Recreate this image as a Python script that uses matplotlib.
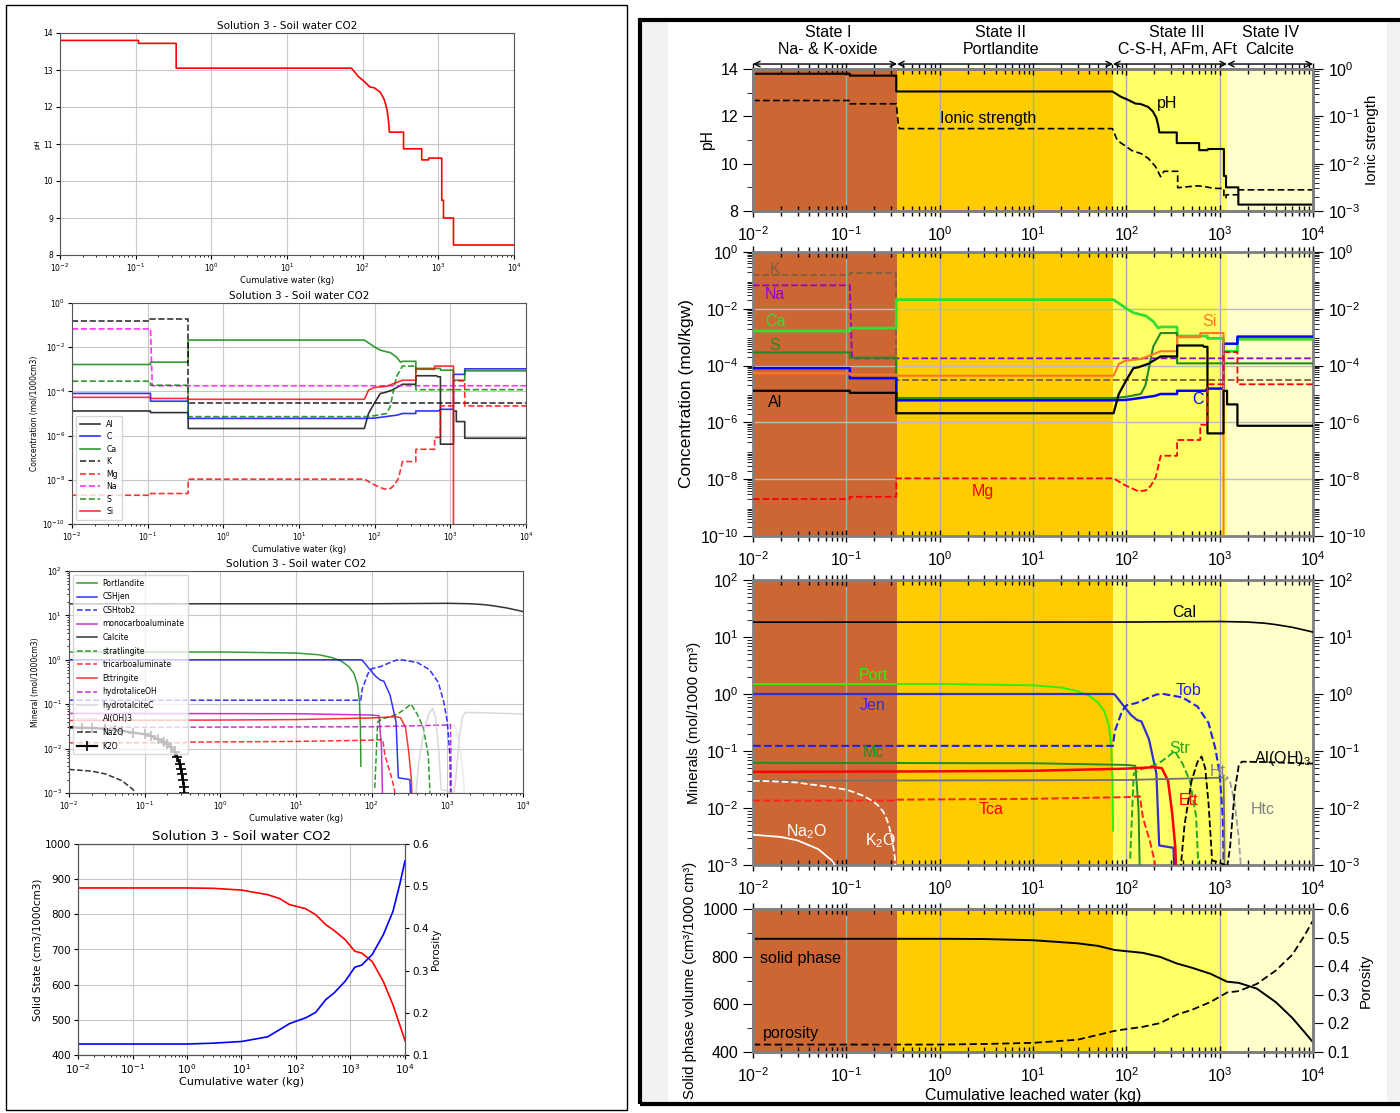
import matplotlib
matplotlib.use("Agg")
import matplotlib.pyplot as plt
from matplotlib.patches import Rectangle
from matplotlib.ticker import FixedLocator, LogLocator, NullFormatter, MultipleLocator

W, H = 1400, 1113

# ---------------- data ----------------
# pH
ph_x = [0.01, 0.109, 0.109, 0.343, 0.343, 71, 78, 87, 105, 125, 142, 171, 193, 210, 220, 226,
        347, 347, 603, 603, 741, 750, 1110, 1110, 1170, 1170, 1585, 1585, 1e4]
ph_y = [13.8, 13.8, 13.72, 13.72, 13.05, 13.05, 12.95, 12.83, 12.69, 12.54, 12.52, 12.4, 12.2, 11.93, 11.6, 11.32,
        11.32, 10.87, 10.87, 10.57, 10.57, 10.62, 10.62, 9.48, 9.48, 9.0, 9.0, 8.27, 8.27]

# ionic strength
ion_x = [0.01, 0.109, 0.109, 0.343, 0.36, 0.37, 71, 80, 95, 114, 144, 173, 207, 233, 253, 355, 355,
         575, 680, 870, 1110, 1110, 1170, 1170, 1585, 1585, 1e4]
ion_y = [0.216, 0.216, 0.184, 0.184, 0.07, 0.055, 0.055, 0.031, 0.0245, 0.019, 0.0163, 0.0128, 0.0085, 0.0053, 0.0069, 0.0069, 0.0031,
         0.0034, 0.0033, 0.003, 0.003, 0.0019, 0.0019, 0.0022, 0.0022, 0.0028, 0.0028]

# concentrations
al_x = [0.01, 0.109, 0.109, 0.343, 0.343, 73, 83, 99, 119, 134, 171, 233, 350, 350, 660, 680, 740, 740,
        1100, 1100, 1200, 1200, 1550, 1550, 1e4]
al_y = [1.3e-5, 1.3e-5, 1.1e-5, 1.1e-5, 2.1e-6, 2.1e-6, 1e-5, 2.9e-5, 8.1e-5, 8.7e-5, 1.15e-4, 2.1e-4, 2.1e-4, 5.1e-4,
        5.1e-4, 4.6e-4, 4.6e-4, 4.1e-7, 4.1e-7, 1.3e-5, 1.3e-5, 4.3e-6, 4.3e-6, 7.6e-7, 7.6e-7]
c_x = [0.01, 0.109, 0.109, 0.343, 0.343, 73, 100, 200, 233, 350, 350, 700, 740, 1100, 1100, 1550, 1550, 1e4]
c_y = [8.1e-5, 8.1e-5, 3.6e-5, 3.6e-5, 6e-6, 6e-6, 6.2e-6, 8.5e-6, 1e-5, 1e-5, 1.3e-5, 1.3e-5, 1.55e-5, 1.55e-5,
       5.9e-4, 5.9e-4, 1.05e-3, 1.05e-3]
ca_x = [0.01, 0.109, 0.109, 0.343, 0.343, 73, 88, 99, 119, 143, 161, 194, 219, 233, 350, 350, 740, 740,
        1100, 1100, 1550, 1550, 1e4]
ca_y = [1.65e-3, 1.65e-3, 2.1e-3, 2.1e-3, 0.021, 0.021, 0.0137, 0.0104, 0.0073, 0.0062, 0.0057, 0.0036, 0.0021, 0.0023,
        0.0023, 1.1e-3, 1.1e-3, 9.1e-4, 9.1e-4, 3.2e-4, 3.2e-4, 8.5e-4, 8.5e-4]
k_x = [0.01, 0.109, 0.109, 0.343, 0.343, 1e4]
k_y = [0.155, 0.155, 0.18, 0.18, 3.1e-5, 3.1e-5]
mg_x = [0.01, 0.109, 0.109, 0.343, 0.343, 73, 99, 134, 161, 183, 207, 233, 350, 350, 620, 620, 740, 740,
        1100, 1100, 1550, 1550, 1e4]
mg_y = [2e-9, 2e-9, 2.4e-9, 2.4e-9, 1.07e-8, 1.07e-8, 5.9e-9, 3.8e-9, 4e-9, 5.9e-9, 1.2e-8, 6.7e-8, 6.7e-8, 2.4e-7,
        2.4e-7, 8.3e-7, 8.3e-7, 2.2e-5, 2.2e-5, 3e-4, 3e-4, 2.2e-5, 2.2e-5]
na_x = [0.01, 0.109, 0.115, 1e4]
na_y = [0.067, 0.067, 1.8e-4, 1.8e-4]
s_x = [0.01, 0.109, 0.109, 0.343, 0.343, 73, 100, 143, 160, 171, 194, 233, 350, 350, 1e4]
s_y = [2.9e-4, 2.9e-4, 1.9e-4, 1.9e-4, 7.2e-6, 7.2e-6, 8e-6, 1e-5, 2e-5, 5.8e-5, 4.6e-4, 1.4e-3, 1.4e-3, 1.2e-4, 1.2e-4]
si_x = [0.01, 0.109, 0.109, 0.343, 0.343, 73, 78, 83, 99, 143, 233, 350, 350, 620, 620, 1100, 1100]
si_y = [5.4e-5, 5.4e-5, 4.8e-5, 4.8e-5, 4.4e-5, 4.4e-5, 7e-5, 1.15e-4, 1.5e-4, 1.7e-4, 3.2e-4, 3.2e-4, 1e-3, 1e-3,
        1.4e-3, 1.4e-3, 1e-11]

# minerals
port_x = [0.01, 1, 10, 20, 30, 40, 50, 58, 65, 69, 71, 72]
port_y = [1.5, 1.5, 1.42, 1.3, 1.12, 0.93, 0.7, 0.5, 0.28, 0.12, 0.03, 0.004]
jen_x = [0.01, 72, 75, 95, 112, 130, 145, 175, 210, 225, 320, 330]
jen_y = [1.0, 1.0, 0.98, 0.6, 0.43, 0.35, 0.33, 0.16, 0.04, 0.0022, 0.002, 0.0005]
tob_x = [0.01, 72, 75, 90, 100, 130, 165, 210, 250, 400, 580, 760, 900, 1000, 1080, 1110]
tob_y = [0.123, 0.123, 0.22, 0.5, 0.63, 0.7, 0.83, 0.98, 1.0, 0.87, 0.6, 0.31, 0.11, 0.04, 0.007, 0.0005]
mc_x = [0.01, 10, 100, 125, 135, 140]
mc_y = [0.062, 0.061, 0.057, 0.055, 0.01, 0.0005]
cal_x = [0.01, 100, 1000, 2000, 3000, 4000, 6000, 8000, 1e4]
cal_y = [18.2, 18.3, 18.7, 18.3, 17.5, 16.5, 14.8, 13.3, 12.2]
str_x = [110, 120, 140, 190, 220, 280, 330, 400, 480, 560, 600]
str_y = [0.0013, 0.04, 0.047, 0.055, 0.06, 0.08, 0.1, 0.06, 0.03, 0.007, 0.0005]
tca_x = [0.01, 0.343, 0.35, 10, 100, 140, 150, 180, 200, 210]
tca_y = [0.0135, 0.0135, 0.014, 0.0145, 0.0155, 0.016, 0.007, 0.0025, 0.0012, 0.0005]
ett_x = [0.01, 1, 10, 100, 200, 240, 280, 310, 335, 345]
ett_y = [0.043, 0.044, 0.045, 0.049, 0.052, 0.05, 0.03, 0.008, 0.002, 0.0005]
ht_x = [0.01, 100, 1000, 1100, 1120, 1130]
ht_y = [0.03, 0.031, 0.034, 0.035, 0.005, 0.0005]
aloh_x = [380, 420, 500, 580, 640, 700, 760, 830, 1000, 1130, 1200, 1290, 1450, 1600, 1730, 3000, 1e4]
aloh_y = [0.0008, 0.005, 0.03, 0.065, 0.08, 0.05, 0.012, 0.0012, 0.0011, 0.001, 0.0009, 0.002, 0.02, 0.055,
          0.065, 0.064, 0.06]
htc_x = [1150, 1200, 1300, 1450, 1600, 1700]
htc_y = [0.03, 0.035, 0.028, 0.012, 0.003, 0.0008]
na2o_x = [0.01, 0.02, 0.03, 0.05, 0.07, 0.075]
na2o_y = [0.0034, 0.0031, 0.0027, 0.0019, 0.0012, 0.001]
k2o_x = [0.01, 0.015, 0.02, 0.03, 0.04, 0.05, 0.07, 0.1, 0.12, 0.15, 0.18, 0.2, 0.22, 0.25, 0.27, 0.29,
         0.3, 0.31, 0.32, 0.33, 0.335]
k2o_y = [0.030, 0.0295, 0.029, 0.028, 0.026, 0.025, 0.023, 0.021, 0.019, 0.0165, 0.014, 0.0125, 0.011, 0.0085,
         0.0065, 0.0045, 0.0035, 0.0027, 0.002, 0.0014, 0.001]

# solid phase volume and porosity
sol_x = [0.01, 1, 3, 10, 30, 50, 75, 100, 150, 230, 350, 500, 800, 1200, 1600, 2500, 4000, 6000, 8000, 1e4]
solid = [875, 875, 874, 869, 856, 845, 828, 823, 816, 799, 771, 754, 728, 695, 690, 666, 609, 543, 486, 441]
poros = [0.126, 0.126, 0.128, 0.132, 0.143, 0.16, 0.174, 0.18, 0.188, 0.201, 0.231, 0.247, 0.275, 0.308, 0.313,
         0.338, 0.385, 0.44, 0.504, 0.56]

# leaching states
state_edges = [0.01, 0.35, 72, 1200, 1e4]
state_colors = ["#cc6633", "#ffcc00", "#ffff66", "#ffffcc"]
state_text = ["State I\nNa- & K-oxide", "State II\nPortlandite", "State III\nC-S-H, AFm, AFt", "State IV\nCalcite"]
state_center = [0.064, 4.5, 350, 3470]

decades = [1e-2, 1e-1, 1, 10, 100, 1e3, 1e4]
TITLE = "Solution 3 - Soil water CO2"


def rect(x0, y0, x1, y1):
    return [x0 / W, 1 - y1 / H, (x1 - x0) / W, (y1 - y0) / H]


def fig_box(x0, y0, x1, y1, **kw):
    fig.add_artist(Rectangle((x0 / W, 1 - y1 / H), (x1 - x0) / W, (y1 - y0) / H,
                             transform=fig.transFigure, **kw))


def log_x(ax):
    ax.set_xscale("log")
    ax.set_xlim(1e-2, 1e4)
    ax.xaxis.set_major_locator(FixedLocator(decades))
    ax.xaxis.set_minor_locator(LogLocator(base=10, subs=range(2, 10), numticks=20))
    ax.xaxis.set_minor_formatter(NullFormatter())


fig = plt.figure(figsize=(W / 100, H / 100), dpi=100)

# frames and background strips
fig_box(6, 5, 627, 1110, fill=False, edgecolor="black", lw=1, zorder=-1)
fig_box(641, 21, 668, 1103, facecolor="#f2f2f2", edgecolor="none", zorder=-2)
fig_box(1387, 21, 1402, 1103, facecolor="#f2f2f2", edgecolor="none", zorder=-2)
fig_box(640, 20, 1410, 1104, fill=False, edgecolor="black", lw=3, zorder=-1)


# ---------------- left column ----------------
def left_axes(box, tsize=7.5, lsize=5.5):
    ax = fig.add_axes(rect(*box))
    log_x(ax)
    ax.grid(True, color="#c8c8c8", lw=0.8)
    ax.set_title(TITLE, fontsize=tsize, pad=3)
    ax.tick_params(labelsize=lsize, length=3, pad=2)
    ax.tick_params(which="minor", length=1.5)
    ax.set_xlabel("Cumulative water (kg)", fontsize=lsize + 0.5, labelpad=1)
    for s in ax.spines.values():
        s.set_color("#555555")
    return ax


ax = left_axes((60, 33, 514, 255))
ax.plot(ph_x, ph_y, color="red", lw=1.2)
ax.set_ylim(8, 14)
ax.set_ylabel("pH", fontsize=5, labelpad=2)

ax = left_axes((72, 303, 526, 524))
ax.set_yscale("log")
ax.set_ylim(1e-10, 1)
ax.yaxis.set_major_locator(FixedLocator([1e-10, 1e-8, 1e-6, 1e-4, 1e-2, 1]))
conc_left = [("Al", al_x, al_y, "black", "-"), ("C", c_x, c_y, "blue", "-"), ("Ca", ca_x, ca_y, "green", "-"),
             ("K", k_x, k_y, "black", "--"), ("Mg", mg_x, mg_y, "red", "--"), ("Na", na_x, na_y, "magenta", "--"),
             ("S", s_x, s_y, "green", "--"), ("Si", si_x, si_y, "red", "-")]
for name, x, y, col, ls in conc_left:
    ax.plot(x, y, color=col, ls=ls, lw=1.2, alpha=0.8, label=name)
ax.legend(loc="lower left", fontsize=5.6, handlelength=2.6, borderpad=0.5, labelspacing=0.45)
ax.set_ylabel("Concentration (mol/1000cm3)", fontsize=5.5, labelpad=2)

ax = left_axes((69, 571, 523, 793))
ax.set_yscale("log")
ax.set_ylim(1e-3, 1e2)
ax.yaxis.set_major_locator(FixedLocator([1e-3, 1e-2, 1e-1, 1, 10, 100]))
min_left = [("Portlandite", port_x, port_y, "green", "-"), ("CSHjen", jen_x, jen_y, "blue", "-"),
            ("CSHtob2", tob_x, tob_y, "blue", "--"), ("monocarboaluminate", mc_x, mc_y, "m", "-"),
            ("Calcite", cal_x, cal_y, "black", "-"), ("stratlingite", str_x, str_y, "green", "--"),
            ("tricarboaluminate", tca_x, tca_y, "red", "--"), ("Ettringite", ett_x, ett_y, "red", "-"),
            ("hydrotaliceOH", ht_x, ht_y, "m", "--"), ("hydrotalciteC", aloh_x, aloh_y, "#cfcfcf", "-"),
            ("Al(OH)3", htc_x, htc_y, "#e6e6e6", "-"), ("Na2O", na2o_x, na2o_y, "black", "--")]
for name, x, y, col, ls in min_left:
    ax.plot(x, y, color=col, ls=ls, lw=1.1, alpha=0.8, label=name)
ax.plot(k2o_x, k2o_y, color="black", lw=1.6, marker="+", ms=7, mew=1.2, label="K2O")
ax.legend(loc="upper left", fontsize=5.5, handlelength=2.6, borderpad=0.5, labelspacing=0.6, framealpha=0.75)
ax.set_ylabel("Mineral (mol/1000cm3)", fontsize=5.5, labelpad=2)

ax = left_axes((78, 844, 405, 1055), tsize=9.5, lsize=7.5)
ax.set_ylim(400, 1000)
ax.plot(sol_x, solid, color="red", lw=1.2)
ax.set_ylabel("Solid State (cm3/1000cm3)", fontsize=7.5, labelpad=2)
tw = ax.twinx()
tw.set_ylim(0.1, 0.6)
tw.plot(sol_x, poros, color="blue", lw=1.2)
tw.tick_params(labelsize=7.5, length=3, pad=2)
tw.set_ylabel("Porosity", fontsize=7.5, labelpad=2)
for s in tw.spines.values():
    s.set_color("#555555")

# ---------------- right column ----------------
plt.rcParams["font.family"] = ["Liberation Sans", "DejaVu Sans"]
plt.rcParams["mathtext.fontset"] = "custom"
plt.rcParams["mathtext.rm"] = "Liberation Sans"
plt.rcParams["mathtext.it"] = "Liberation Sans:italic"
LAB = 10.8


def grey_spines(ax):
    for s in ax.spines.values():
        s.set_color("#808080")
        s.set_linewidth(2)


def right_axes(box):
    ax = fig.add_axes(rect(*box))
    log_x(ax)
    for lo, hi, col in zip(state_edges[:-1], state_edges[1:], state_colors):
        ax.axvspan(lo, hi, color=col, lw=0, zorder=0)
    ax.grid(True, axis="x", which="major", color="#aaaaaa", lw=1)
    grey_spines(ax)
    ax.tick_params(axis="x", which="both", top=True, bottom=True, direction="inout", labelsize=11.5, pad=6)
    ax.tick_params(axis="x", which="major", length=9, width=1)
    ax.tick_params(axis="x", which="minor", length=7, width=1)
    ax.tick_params(axis="y", which="both", direction="out", labelsize=11.5)
    ax.tick_params(axis="y", which="major", length=7)
    ax.tick_params(axis="y", which="minor", length=4)
    return ax


def log_y(ax, lo, hi, step):
    ax.set_yscale("log")
    ax.set_ylim(10.0 ** lo, 10.0 ** hi)
    ax.yaxis.set_major_locator(FixedLocator([10.0 ** e for e in range(lo, hi + 1, step)]))
    ax.yaxis.set_minor_locator(LogLocator(base=10, subs=range(2, 10), numticks=30))
    ax.yaxis.set_minor_formatter(NullFormatter())


# pH / ionic strength
ax = right_axes((753, 69, 1313, 211))
ax.plot(ph_x, ph_y, color="black", lw=1.5, zorder=3)
ax.set_ylim(8, 14)
ax.yaxis.set_major_locator(MultipleLocator(2))
ax.yaxis.set_minor_locator(MultipleLocator(1))
ax.set_ylabel("pH", fontsize=LAB + 0.5, labelpad=4)
ax.text(273, 12.56, "pH", fontsize=11.5, ha="center", va="center")
ax.text(3.3, 11.9, "Ionic strength", fontsize=11.5, ha="center", va="center")
xt = ax.get_xaxis_transform()
for i, txt in enumerate(state_text):
    ax.annotate("", xy=(state_edges[i], 1.035), xytext=(state_edges[i + 1], 1.035), xycoords=xt,
                textcoords=xt, annotation_clip=False,
                arrowprops=dict(arrowstyle="<->", lw=1, color="black", shrinkA=0, shrinkB=0))
    ax.text(state_center[i], 1.085, txt, transform=xt, ha="center", va="bottom", fontsize=11.5, linespacing=1.15)
tw = ax.twinx()
tw.plot(ion_x, ion_y, color="black", lw=1.2, ls="--", dashes=(4, 2))
log_y(tw, -3, 0, 1)
tw.tick_params(axis="y", which="both", direction="out", labelsize=11.5)
tw.tick_params(axis="y", which="major", length=7)
tw.tick_params(axis="y", which="minor", length=4)
tw.set_ylabel("Ionic strength", fontsize=LAB, labelpad=4)
grey_spines(tw)

# concentrations
ax = right_axes((753, 252, 1313, 536))
log_y(ax, -10, 0, 2)
ax.grid(True, axis="y", which="major", color="#bbbbbb", lw=1)
ax.tick_params(axis="y", which="both", right=True, labelright=True)
conc_right = [(k_x, k_y, "#80603a", "--", 1.3), (na_x, na_y, "#9900cc", "--", 1.3),
              (ca_x, ca_y, "#33dd33", "-", 2), (s_x, s_y, "#228b22", "-", 1.5),
              (c_x, c_y, "#0000ff", "-", 1.8), (si_x, si_y, "#ff7722", "-", 1.5),
              (al_x, al_y, "black", "-", 1.6), (mg_x, mg_y, "#ff0000", "--", 1.3)]
for x, y, col, ls, lw in conc_right:
    ax.plot(x, y, color=col, ls=ls, lw=lw, zorder=3)
conc_lab = [("K", 0.0172, 0.25, "#80603a"), ("Na", 0.0172, 0.031, "#9900cc"), ("Ca", 0.0172, 3.7e-3, "#33dd33"),
            ("S", 0.0172, 5.3e-4, "#228b22"), ("Al", 0.0172, 5.2e-6, "black"), ("Si", 769, 3.7e-3, "#ff7722"),
            ("C", 590, 6.2e-6, "#0000ff"), ("Mg", 2.9, 3.8e-9, "#ff0000")]
for txt, x, y, col in conc_lab:
    ax.text(x, y, txt, color=col, fontsize=11.5, ha="center", va="center")
ax.set_ylabel("Concentration (mol/kgw)", fontsize=12.5, labelpad=4)

# minerals
ax = right_axes((753, 580, 1313, 865))
log_y(ax, -3, 2, 1)
ax.tick_params(axis="y", which="both", right=True, labelright=True)
min_right = [(cal_x, cal_y, "black", "-", 1.2), (port_x, port_y, "#33ee00", "-", 1.4),
             (jen_x, jen_y, "#3030d0", "-", 1.6), (tob_x, tob_y, "#2020ee", "--", 1.5),
             (mc_x, mc_y, "#228b22", "-", 1.4), (str_x, str_y, "#22aa22", "--", 1.4),
             (tca_x, tca_y, "#ff2020", "--", 1.4), (ett_x, ett_y, "#ff0000", "-", 1.8),
             (ht_x, ht_y, "#707070", "-", 1.3), (htc_x, htc_y, "#a0a0a0", "--", 1.3),
             (aloh_x, aloh_y, "black", "--", 1.3), (na2o_x, na2o_y, "white", "-", 1.3),
             (k2o_x, k2o_y, "white", "--", 1.3)]
for x, y, col, ls, lw in min_right:
    ax.plot(x, y, color=col, ls=ls, lw=lw, zorder=3)
min_lab = [("Cal", 415, 27, "black"), ("Port", 0.193, 2.15, "#33ee00"), ("Jen", 0.193, 0.64, "#3030d0"),
           ("Tob", 468, 1.17, "#2020ee"), ("Mc", 0.193, 0.095, "#228b22"), ("Str", 376, 0.11, "#22aa22"),
           ("Ht", 950, 0.043, "#808080"), ("Al(OH)$_3$", 4700, 0.075, "black"), ("Ett", 470, 0.0138, "#ff0000"),
           ("Tca", 3.55, 0.0093, "#ff0000"), ("Htc", 2900, 0.0096, "#808080"), ("Na$_2$O", 0.037, 0.0038, "white"),
           ("K$_2$O", 0.23, 0.0027, "white")]
for txt, x, y, col in min_lab:
    ax.text(x, y, txt, color=col, fontsize=11.5, ha="center", va="center")
ax.set_ylabel("Minerals (mol/1000 cm³)", fontsize=LAB, labelpad=4)

# solid phase / porosity
ax = right_axes((753, 909, 1313, 1052))
ax.plot(sol_x, solid, color="black", lw=1.4, zorder=3)
ax.set_ylim(400, 1000)
ax.yaxis.set_major_locator(MultipleLocator(200))
ax.yaxis.set_minor_locator(MultipleLocator(100))
ax.text(0.0119, 794, "solid phase", fontsize=11.5, ha="left", va="center")
ax.text(0.0128, 479, "porosity", fontsize=11.5, ha="left", va="center")
ax.set_ylabel("Solid phase volume (cm³/1000 cm³)", fontsize=LAB, labelpad=4)
ax.set_xlabel("Cumulative leached water (kg)", fontsize=11.5, labelpad=2)
tw = ax.twinx()
tw.plot(sol_x, poros, color="black", lw=1.3, ls="--", dashes=(4, 2))
tw.set_ylim(0.1, 0.6)
tw.yaxis.set_major_locator(MultipleLocator(0.1))
tw.tick_params(axis="y", which="both", direction="out", labelsize=11.5, length=7)
tw.set_ylabel("Porosity", fontsize=LAB, labelpad=6)
grey_spines(tw)

fig.savefig("out.png", dpi=100)
